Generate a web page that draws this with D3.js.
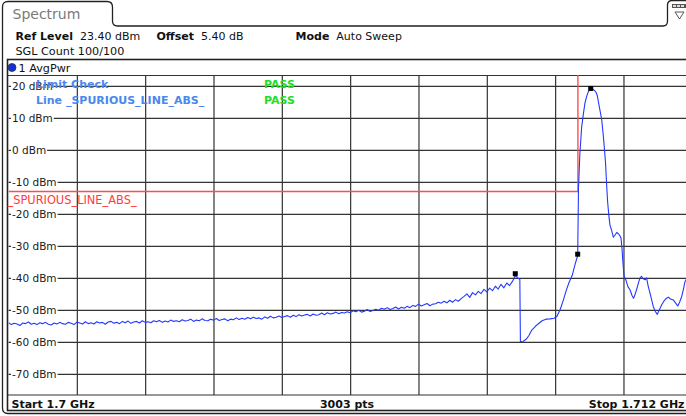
<!DOCTYPE html>
<html>
<head>
<meta charset="utf-8">
<script src="https://cdn.jsdelivr.net/npm/d3@7"></script>
<style>
  body { margin: 0; background: #fff; }
  svg { display: block; font-family: "DejaVu Sans", Verdana, sans-serif; }
</style>
</head>
<body>
<svg id="chart" width="686" height="416"></svg>
<script>
// sweep settings
const startMHz = 1700
const stopMHz = 1712
const refLevel = 23.4
const bottomLevel = -76.6

const yTicks = [20, 10, 0, -10, -20, -30, -40, -50, -60, -70]
const xTicks = [1701.2, 1702.4, 1703.6, 1704.8, 1706.0, 1707.2, 1708.4, 1709.6, 1710.8]

// noise floor, 50 kHz apart, dBm
const floorStartMHz = 1700
const floorLevels = [
  -54.0,-54.6,-54.2,-54.4,-54.9,-54.1,-54.3,-53.8,-54.5,-54.2,
  -54.6,-54.0,-54.3,-53.9,-54.5,-54.7,-54.1,-54.4,-53.9,-54.3,
  -54.5,-53.9,-54.2,-54.6,-53.8,-54.1,-54.4,-53.7,-54.3,-54.0,
  -54.4,-53.7,-54.1,-53.9,-54.5,-53.8,-53.6,-54.2,-53.9,-54.3,
  -53.6,-54.0,-53.5,-54.2,-53.8,-53.6,-54.1,-53.4,-53.9,-53.7,
  -54.0,-53.4,-53.7,-53.3,-53.9,-53.5,-53.8,-53.2,-53.6,-53.4,
  -53.7,-53.1,-53.5,-53.3,-52.9,-53.6,-53.2,-53.4,-52.8,-53.3,
  -53.4,-52.9,-53.2,-52.7,-53.3,-53.0,-52.8,-53.4,-52.9,-53.1,
  -52.5,-53.0,-52.6,-52.9,-52.4,-52.8,-52.3,-52.7,-52.5,-52.9,
  -52.2,-52.6,-52.0,-52.5,-52.3,-51.9,-52.4,-52.1,-51.8,-52.3,
  -51.7,-52.1,-51.5,-51.9,-51.6,-51.4,-51.9,-51.3,-51.7,-51.5,
  -51.0,-51.5,-50.9,-51.3,-51.1,-50.7,-51.2,-50.8,-51.0,-50.6,
  -50.9,-50.3,-50.6,-50.1,-50.7,-50.4,-49.9,-50.5,-50.2,-49.8,
  -50.1,-49.5,-49.8,-49.3,-49.9,-49.6,-49.1,-49.7,-49.2,-49.5,
  -48.9,-49.3,-48.6,-48.9,-48.2,-48.8,-48.4,-48.0,-48.7,-48.2,
  -48.1,-47.6,-47.9,-47.3,-47.8,-47.0,-47.6,-46.8,-47.3,-46.5,
  -45.8,-45.0,-46.1,-44.6,-45.3,-44.2,-44.9,-43.6,-44.4,-43.2,
  -44.0,-42.6,-43.5,-42.0,-43.1,-41.6,-42.4,-41.1
]
// rest of the trace, [MHz, dBm]
const shoulderTrace = [
  [1708.9,-39.3],[1708.95,-40.1],[1708.98,-40.4],
  [1708.99,-59.9],[1709.04,-59.8],[1709.09,-59.2],[1709.14,-58.0],[1709.19,-56.3],[1709.25,-55.2],[1709.30,-54.4],
  [1709.37,-53.4],[1709.44,-52.9],[1709.51,-52.8],[1709.58,-52.6],[1709.63,-52.1],[1709.69,-49.8],[1709.74,-47.2],
  [1709.79,-44.2],[1709.84,-41.6],[1709.90,-39.2],[1709.95,-35.8],[1709.996,-33.0]
]
const carrierTrace = [
  [1710.01,-12.0],[1710.035,-1.0],[1710.066,7.2],[1710.098,11.5],[1710.124,14.7],[1710.155,16.8],[1710.183,18.2],
  [1710.225,19.2],[1710.256,19.0],[1710.29,18.6],[1710.317,18.0],[1710.34,17.0],[1710.37,14.0],[1710.397,11.5],
  [1710.418,9.4],[1710.44,5.5],[1710.457,2.2],[1710.485,-4.0],[1710.506,-11.5],[1710.523,-16.5],[1710.546,-21.0],
  [1710.563,-23.5],[1710.59,-25.0],[1710.622,-27.3],[1710.652,-26.6],[1710.681,-25.8],[1710.713,-26.2],[1710.74,-26.9],
  [1710.757,-27.6],[1710.775,-31.0],[1710.787,-34.4],[1710.81,-39.4],[1710.845,-40.8],[1710.88,-42.8],[1710.915,-43.7],
  [1710.95,-45.5],[1710.977,-46.4],[1711.003,-45.2],[1711.033,-43.5],[1711.064,-41.5],[1711.09,-40.1],[1711.116,-39.5],
  [1711.143,-40.2],[1711.178,-40.6],[1711.205,-40.0],[1711.236,-42.7],[1711.275,-45.4],[1711.324,-49.0],[1711.363,-50.6],
  [1711.394,-51.4],[1711.424,-50.2],[1711.472,-48.4],[1711.512,-47.2],[1711.547,-46.5],[1711.587,-46.0],[1711.626,-46.6],
  [1711.675,-46.9],[1711.714,-47.8],[1711.753,-48.8],[1711.785,-47.6],[1711.823,-45.8],[1711.854,-43.5],[1711.88,-41.2],
  [1711.925,-39.8],[1711.99,-39.3],[1712.0,-39.0]
]
const markerPoints = [[1710.225, 19.2], [1708.90, -38.7], [1709.996, -32.6]]

// limit line _SPURIOUS_LINE_ABS_
const limitLine = [[1700, -13], [1710, -13], [1710, 40], [1712, 40]]

const svg = d3.select('#chart')
const W = 686

const x = d3.scaleLinear().domain([startMHz, stopMHz]).range([8.5, 691.8])
const y = d3.scaleLinear().domain([bottomLevel, refLevel]).range([395, 75])
const plotW = x.range()[1] - x.range()[0]
const plotH = y.range()[0] - y.range()[1]

svg.append('rect').attr('width', W).attr('height', 416).attr('fill', '#fff')

// outer frame + tab
svg.append('path')
    .attr('d', 'M2.5,408 Q2.5,413.5 8,413.5 H700 M2.5,408 V7 Q2.5,1.5 8,1.5 H107 Q112.5,1.5 112.5,7 V21 Q112.5,26 117.5,26 H663 Q667.5,26 667.5,21 V5 Q667.5,0.5 672,0.5 H700')
    .attr('fill', 'none').attr('stroke', '#222').attr('stroke-width', 1.3)

svg.append('text').attr('x', 12.5).attr('y', 18.5)
    .attr('font-size', 14).attr('fill', '#7a7a7a').text('Spectrum')

// little icon top right
const icon = svg.append('g').attr('transform', 'translate(672,4)')
icon.append('rect').attr('x', 0).attr('y', 0).attr('width', 14).attr('height', 4).attr('fill', '#555')
;[1, 5, 9].forEach(d => icon.append('rect').attr('x', d).attr('y', 1).attr('width', 3).attr('height', 2).attr('fill', '#ddd'))
icon.append('path').attr('d', 'M3,8 L12,8 L7.5,15 Z').attr('fill', 'none').attr('stroke', '#555')

// header info
const info = svg.append('g').attr('fill', '#111')
const infoRow = (xp, yp, label, value) => {
  const t = info.append('text').attr('x', xp).attr('y', yp)
  t.append('tspan').attr('font-weight', 'bold').attr('font-size', 11).text(label)
  t.append('tspan').attr('font-size', 11).text('\u00a0 ' + value)
}
infoRow(15.5, 40, 'Ref Level', '23.40 dBm')
infoRow(156.5, 40, 'Offset', '5.40 dB')
infoRow(295.5, 40, 'Mode', 'Auto Sweep')
info.append('text').attr('x', 15.5).attr('y', 54.5).attr('font-size', 11.2).text('SGL Count 100/100')

// trace window
svg.append('rect').attr('x', 7.5).attr('y', 59.5).attr('width', 700).attr('height', 351)
    .attr('fill', '#fff').attr('stroke', '#222').attr('stroke-width', 1.6)

svg.append('circle').attr('cx', 12).attr('cy', 67.5).attr('r', 4)
    .attr('fill', '#1030e0').attr('stroke', '#333').attr('stroke-width', 0.8)
svg.append('text').attr('x', 18.5).attr('y', 72).attr('font-size', 11.2).attr('fill', '#111').text('1 AvgPwr')

const plot = svg.append('g')

plot.append('line').attr('x1', 7.5).attr('x2', W).attr('y1', 75.5).attr('y2', 75.5)
    .attr('stroke', '#333').attr('stroke-width', 1.2)
plot.append('line').attr('x1', 7.5).attr('x2', W).attr('y1', 395).attr('y2', 395)
    .attr('stroke', '#333').attr('stroke-width', 1.2)

// grid
plot.append('g')
    .attr('transform', `translate(${x.range()[0]},0)`)
    .call(d3.axisLeft(y).tickValues(yTicks).tickSize(-plotW).tickFormat(''))
    .call(g => g.select('.domain').remove())
    .call(g => g.selectAll('.tick line').attr('stroke', '#333').attr('stroke-width', 1.2))

plot.append('g')
    .attr('transform', `translate(0,${y.range()[0]})`)
    .call(d3.axisBottom(x).tickValues(xTicks).tickSize(-plotH).tickFormat(''))
    .call(g => g.select('.domain').remove())
    .call(g => g.selectAll('.tick line').attr('stroke', '#333').attr('stroke-width', 1.2))

// level labels sit on the grid lines
const yLab = plot.append('g')
    .attr('transform', `translate(${x.range()[0]},0)`)
    .call(d3.axisRight(y).tickValues(yTicks).tickSize(0).tickPadding(3.5).tickFormat(d => d + ' dBm'))
    .call(g => g.select('.domain').remove())
yLab.selectAll('.tick text')
    .attr('font-family', '"DejaVu Sans", Verdana, sans-serif')
    .attr('font-size', 10.5).attr('fill', '#1a1a1a')
yLab.selectAll('.tick').each(function () {
  const t = d3.select(this).select('text')
  const b = t.node().getBBox()
  d3.select(this).insert('rect', 'text')
      .attr('x', b.x - 1).attr('y', -3).attr('width', b.width + 2).attr('height', 6).attr('fill', '#fff')
})

// limit line
const line = d3.line().x(d => x(d[0])).y(d => y(d[1]))
const clip = svg.append('clipPath').attr('id', 'plotclip')
clip.append('rect').attr('x', x.range()[0]).attr('y', y.range()[1]).attr('width', plotW).attr('height', plotH)

plot.append('path')
    .datum(limitLine)
    .attr('clip-path', 'url(#plotclip)')
    .attr('d', line)
    .attr('fill', 'none').attr('stroke', '#ff4d4d').attr('stroke-width', 1.4)

plot.append('text').attr('x', 7.5).attr('y', 203.5)
    .attr('font-size', 11.4).attr('fill', '#ff3b3b').text('_SPURIOUS_LINE_ABS_')

// trace
const floorTrace = floorLevels.map((v, i) => [floorStartMHz + i * 0.05, v])
const trace = floorTrace.concat(shoulderTrace, carrierTrace)
plot.append('path')
    .datum(trace)
    .attr('clip-path', 'url(#plotclip)')
    .attr('d', line)
    .attr('fill', 'none').attr('stroke', '#2438ff').attr('stroke-width', 1.1)
    .attr('stroke-linejoin', 'round')

plot.selectAll('.mk')
    .data(markerPoints)
    .join('rect')
    .attr('class', 'mk')
    .attr('x', d => x(d[0]) - 2.5).attr('y', d => y(d[1]) - 2.5)
    .attr('width', 5).attr('height', 5).attr('fill', '#000')

// limit check overlay
const chk = plot.append('g').attr('font-size', 11).attr('font-weight', 'bold')
chk.append('text').attr('x', 36).attr('y', 87.5).attr('fill', '#4a88ee').text('Limit Check')
chk.append('text').attr('x', 36).attr('y', 103.5).attr('fill', '#4a88ee').text('Line _SPURIOUS_LINE_ABS_')
chk.append('text').attr('x', 264).attr('y', 87.5).attr('fill', '#22dd22').text('PASS')
chk.append('text').attr('x', 264).attr('y', 103.5).attr('fill', '#22dd22').text('PASS')

// status bar
const foot = svg.append('g').attr('font-size', 11).attr('font-weight', 'bold').attr('fill', '#111')
foot.append('text').attr('x', 11.5).attr('y', 407.5).text('Start 1.7 GHz')
foot.append('text').attr('x', 347).attr('y', 407.5).attr('text-anchor', 'middle').text('3003 pts')
foot.append('text').attr('x', 684.5).attr('y', 407.5).attr('text-anchor', 'end').text('Stop 1.712 GHz')
</script>
</body>
</html>
